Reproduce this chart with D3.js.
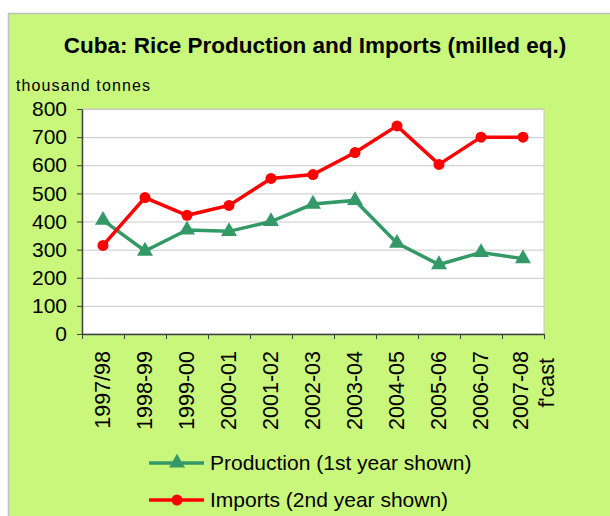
<!DOCTYPE html>
<html>
<head>
<meta charset="utf-8">
<script src="https://cdn.jsdelivr.net/npm/d3@7"></script>
<style>
  body { margin: 0; background: #fff; }
  svg { display: block; font-family: "Liberation Sans", Arial, sans-serif; }
</style>
</head>
<body>
<svg width="610" height="516"></svg>
<script>
// data (thousand tonnes)
var seasons = ['1997/98', '1998-99', '1999-00', '2000-01', '2001-02', '2002-03',
               '2003-04', '2004-05', '2005-06', '2006-07', '2007-08'];
var production = [405, 295, 370, 365, 400, 462, 475, 323, 247, 290, 268];
var imports = [315, 485, 422, 457, 553, 567, 645, 740, 603, 700, 700];
var yTicks = [0, 100, 200, 300, 400, 500, 600, 700, 800];

var svg = d3.select('svg');
var plotL = 82, plotR = 544, plotT = 109, plotB = 334;
var green = '#339966', red = '#ff0000';

// background panel
svg.append('rect')
  .attr('x', 8.5).attr('y', 13.5)
  .attr('width', 640).attr('height', 540)
  .attr('fill', '#c8f77c')
  .attr('stroke', '#c0c0c0').attr('stroke-width', 1.5);

svg.append('text')
  .attr('x', 315).attr('y', 53)
  .attr('text-anchor', 'middle')
  .attr('font-size', 22.5).attr('font-weight', 'bold')
  .text('Cuba: Rice Production and Imports (milled eq.)');

svg.append('text')
  .attr('x', 16).attr('y', 91)
  .attr('font-size', 16)
  .attr('textLength', 134)
  .text('thousand tonnes');

var x = d3.scaleBand().domain(seasons).range([plotL, plotR]).padding(0);
var xb = d3.scaleLinear().domain([0, seasons.length]).range([plotL, plotR]);
var y = d3.scaleLinear().domain([0, 800]).range([plotB, plotT]);

// plot area
svg.append('rect')
  .attr('x', plotL).attr('y', plotT)
  .attr('width', plotR - plotL).attr('height', plotB - plotT)
  .attr('fill', '#fff')
  .attr('stroke', '#c8c8c8').attr('stroke-width', 1);

// grid
svg.append('g')
  .attr('transform', 'translate(' + plotL + ',0)')
  .call(d3.axisLeft(y).tickValues(yTicks).tickSize(-(plotR - plotL)).tickFormat(''))
  .call(function(g) {
    g.select('.domain').remove();
    g.selectAll('line').attr('stroke', '#c8c8c8').attr('stroke-width', 1);
  });

// y axis
svg.append('g')
  .attr('transform', 'translate(' + plotL + ',0)')
  .call(d3.axisLeft(y).tickValues(yTicks).tickSize(5).tickSizeOuter(0).tickPadding(10))
  .call(function(g) {
    g.select('.domain').attr('stroke', '#404040').attr('stroke-width', 1.5);
    g.selectAll('line').attr('stroke', '#404040');
    g.selectAll('text').attr('font-size', 21).attr('fill', '#000')
      .attr('font-family', '"Liberation Sans", Arial, sans-serif');
  });

// x axis with ticks at category boundaries
svg.append('g')
  .attr('transform', 'translate(0,' + plotB + ')')
  .call(d3.axisBottom(xb).ticks(seasons.length).tickSize(5).tickSizeOuter(0).tickFormat(''))
  .call(function(g) {
    g.select('.domain').attr('stroke', '#404040').attr('stroke-width', 1.5);
    g.selectAll('line').attr('stroke', '#404040');
  });

// rotated category labels
var lab = svg.append('g').attr('font-size', 21.5);
seasons.forEach(function(s, i) {
  var cx = x(s) + x.bandwidth() / 2;
  var last = i === seasons.length - 1;
  lab.append('text')
    .attr('transform', 'translate(' + (cx + 7 - (last ? 2 : 0)) + ',351) rotate(-90)')
    .attr('text-anchor', 'end')
    .text(s);
  if (last) {
    lab.append('text')
      .attr('transform', 'translate(' + (cx + 31) + ',358) rotate(-90)')
      .attr('text-anchor', 'end')
      .text("f'cast");
  }
});

var line = d3.line()
  .x(function(d, i) { return x(seasons[i]) + x.bandwidth() / 2; })
  .y(function(d) { return y(d); });

svg.append('path').datum(production)
  .attr('d', line).attr('fill', 'none')
  .attr('stroke', green).attr('stroke-width', 3.5);

svg.append('path').datum(imports)
  .attr('d', line).attr('fill', 'none')
  .attr('stroke', red).attr('stroke-width', 3.5);

var tri = d3.symbol().type(d3.symbolTriangle).size(110);

svg.selectAll('.prod').data(production).enter()
  .append('path')
  .attr('class', 'prod')
  .attr('d', tri)
  .attr('transform', function(d, i) {
    return 'translate(' + (x(seasons[i]) + x.bandwidth() / 2) + ',' + y(d) + ')';
  })
  .attr('fill', green);

svg.selectAll('.imp').data(imports).enter()
  .append('circle')
  .attr('class', 'imp')
  .attr('cx', function(d, i) { return x(seasons[i]) + x.bandwidth() / 2; })
  .attr('cy', function(d) { return y(d); })
  .attr('r', 5.5)
  .attr('fill', red);

// legend
var legend = [
  { name: 'Production (1st year shown)', color: green, mark: 'tri' },
  { name: 'Imports (2nd year shown)', color: red, mark: 'circle' }
];
var lg = svg.append('g');
legend.forEach(function(l, i) {
  var ly = 463 + i * 37;
  lg.append('line')
    .attr('x1', 149).attr('x2', 204)
    .attr('y1', ly).attr('y2', ly)
    .attr('stroke', l.color).attr('stroke-width', 3.5);
  if (l.mark === 'tri') {
    lg.append('path').attr('d', tri)
      .attr('transform', 'translate(177,' + ly + ')')
      .attr('fill', l.color);
  } else {
    lg.append('circle').attr('cx', 177).attr('cy', ly).attr('r', 5.5).attr('fill', l.color);
  }
  lg.append('text')
    .attr('x', 210).attr('y', ly + 7)
    .attr('font-size', 21)
    .text(l.name);
});
</script>
</body>
</html>
